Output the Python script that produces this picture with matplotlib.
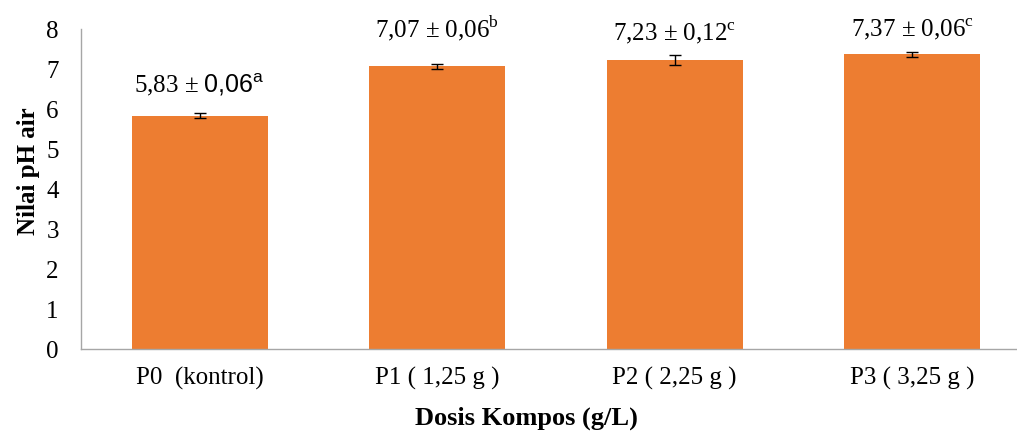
import numpy as np
import matplotlib
matplotlib.use('Agg')
import matplotlib.pyplot as plt

# pH air per dosis kompos (rata-rata ± SD, notasi uji lanjut)
perlakuan = ['P0  (kontrol)', 'P1 ( 1,25 g )', 'P2 ( 2,25 g )', 'P3 ( 3,25 g )']
ph_air = [5.83, 7.07, 7.23, 7.37]
sd_ph = [0.06, 0.06, 0.12, 0.06]
notasi = ['a', 'b', 'c', 'c']
yticks = [0, 1, 2, 3, 4, 5, 6, 7, 8]

plt.rcParams['font.family'] = 'Liberation Serif'
plt.rcParams['mathtext.fontset'] = 'custom'
plt.rcParams['mathtext.rm'] = 'Liberation Serif'
plt.rcParams['mathtext.sf'] = 'Liberation Sans'

fig = plt.figure(figsize=(10.17, 4.34), dpi=100)
ax = fig.add_axes([81 / 1017, 85 / 434, 950 / 1017, 320 / 434])

x = np.arange(len(perlakuan))
ax.bar(x, ph_air, width=0.573, color='#ED7D31', zorder=2)
ax.errorbar(x, ph_air, yerr=sd_ph, fmt='none', ecolor='black',
            elinewidth=1.0, capsize=4, capthick=1.0, zorder=3)

# label nilai di atas batang
label_pad = [17, 21, 14, 13]
for i, (v, s, n) in enumerate(zip(ph_air, sd_ph, notasi)):
    mean_txt = f'{v:.2f}'.replace('.', ',')
    sd_txt = f'{s:.2f}'.replace('.', ',')
    if i == 0:
        txt = mean_txt + ' ± $\\mathsf{' + sd_txt.replace(',', '{,}') + '}^{\\mathsf{' + n + '}}$'
    else:
        txt = mean_txt + ' ± ' + sd_txt + '$^{\\mathrm{' + n + '}}$'
    ax.annotate(txt, xy=(x[i], v), xytext=(0, label_pad[i]), textcoords='offset points',
                ha='center', va='baseline', fontsize=18)

ax.set_xlim(-0.5, len(perlakuan) - 0.5)
ax.set_ylim(0, 8)
ax.set_yticks(yticks)
ax.set_xticks(x)
ax.set_xticklabels(perlakuan, fontsize=18)
ax.tick_params(axis='y', length=0, pad=16, labelsize=18)
ax.tick_params(axis='x', length=0, pad=13)

for side in ['top', 'right']:
    ax.spines[side].set_visible(False)
for side in ['left', 'bottom']:
    ax.spines[side].set_color('#A6A6A6')
    ax.spines[side].set_linewidth(1.0)

fig.text(29 / 1017, 1 - 171 / 434, 'Nilai pH air', rotation=90, ha='center', va='center',
         fontsize=18, fontweight='bold')
fig.text(526 / 1017, 1 - 418 / 434, 'Dosis Kompos (g/L)', ha='center', va='center',
         fontsize=19, fontweight='bold')

fig.savefig('out.png', dpi=100)
